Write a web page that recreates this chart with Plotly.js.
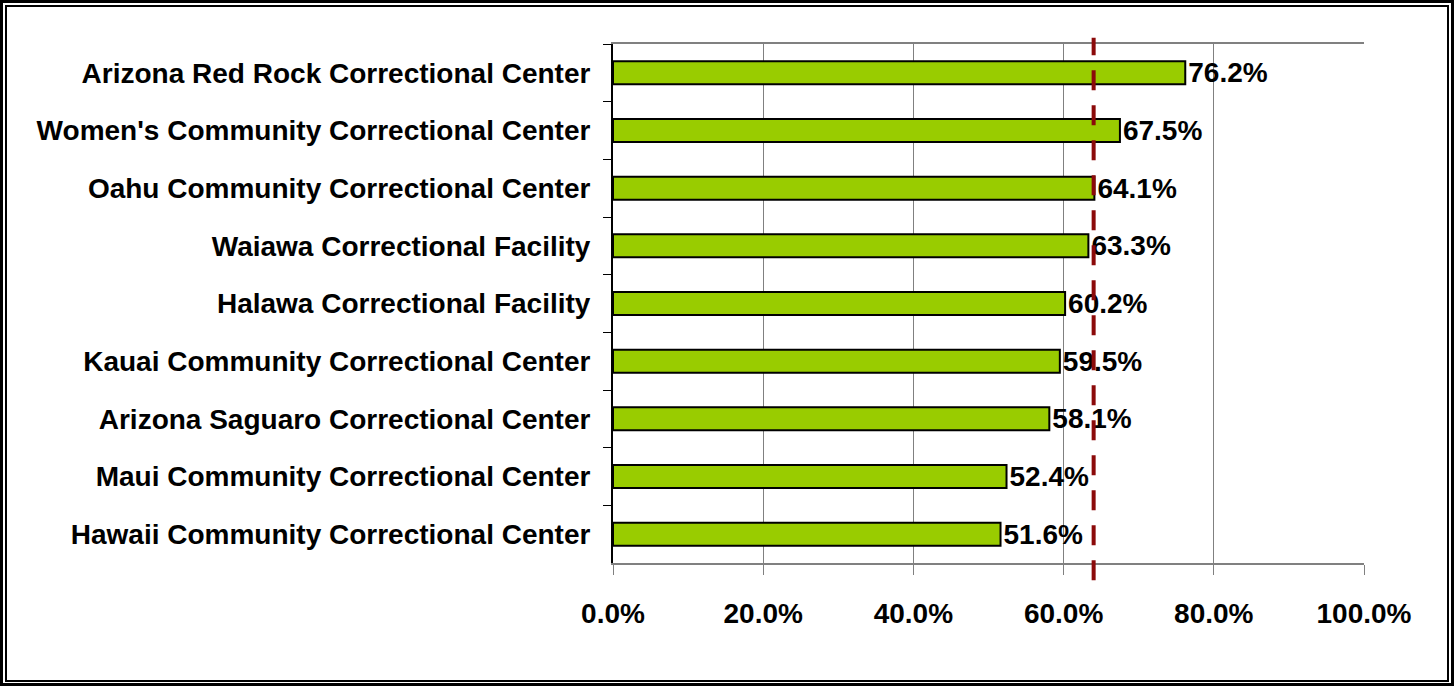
<!DOCTYPE html>
<html>
<head>
<meta charset="utf-8">
<script src="https://cdn.plot.ly/plotly-3.0.1.min.js"></script>
<style>
  body { margin: 0; background: #fff; }
  #wrap { position: relative; width: 1454px; height: 686px; }
  #plot { position: absolute; left: 0; top: 0; width: 1454px; height: 686px; }
  .frame { position: absolute; box-sizing: border-box; border: solid #000; pointer-events: none; }
  #outer { left: 0; top: 0; width: 1454px; height: 686px; border-width: 3px; }
  #inner { left: 5px; top: 5px; width: 1444px; height: 677px; border-width: 2px; }
</style>
</head>
<body>
<div id="wrap">
  <div id="plot"></div>
  <div id="outer" class="frame"></div>
  <div id="inner" class="frame"></div>
</div>
<script>
// facilities, top to bottom as in the chart
const facilities = [
    'Arizona Red Rock Correctional Center',
    "Women's Community Correctional Center",
    'Oahu Community Correctional Center',
    'Waiawa Correctional Facility',
    'Halawa Correctional Facility',
    'Kauai Community Correctional Center',
    'Arizona Saguaro Correctional Center',
    'Maui Community Correctional Center',
    'Hawaii Community Correctional Center'
];
const rates = [76.2, 67.5, 64.1, 63.3, 60.2, 59.5, 58.1, 52.4, 51.6];
const average = 64.0; // dashed reference line
const xTicks = [0, 20, 40, 60, 80, 100];
const xTickLabels = ['0.0%', '20.0%', '40.0%', '60.0%', '80.0%', '100.0%'];

const bold = { family: 'Liberation Sans, Arial, sans-serif', size: 28, color: '#000', weight: 'bold' };

let bars = {
    type: 'bar',
    orientation: 'h',
    x: rates,
    y: facilities,
    text: rates.map(v => v.toFixed(1) + '%'),
    textposition: 'outside',
    constraintext: 'none',
    textfont: bold,
    cliponaxis: false,
    marker: {
        color: '#99cc00',
        line: { color: '#000', width: 2 }
    },
    hoverinfo: 'none'
};

const layout = {
    width: 1454,
    height: 686,
    margin: { l: 613, r: 90, t: 44, b: 123 },
    paper_bgcolor: '#fff',
    plot_bgcolor: '#fff',
    showlegend: false,
    bargap: 0.6,
    font: bold,
    xaxis: {
        range: [0, 100],
        tickvals: xTicks,
        ticktext: xTickLabels,
        showgrid: true,
        gridcolor: '#808080',
        gridwidth: 1,
        zeroline: false,
        showline: true,
        mirror: true,
        linecolor: '#808080',
        linewidth: 2,
        ticks: 'outside',
        ticklen: 10,
        tickcolor: '#808080',
        tickfont: bold,
        ticklabelstandoff: 14
    },
    yaxis: {
        autorange: 'reversed',
        showgrid: false,
        zeroline: false,
        showline: true,
        linecolor: '#000',
        linewidth: 2,
        ticks: 'outside',
        tickson: 'boundaries',
        ticklen: 8,
        tickcolor: '#000',
        tickfont: bold,
        ticklabelstandoff: 15
    },
    shapes: [{
        type: 'line',
        xref: 'x', yref: 'paper',
        x0: average, x1: average,
        y0: -0.033, y1: 1.012,
        line: { color: '#8b0a0a', width: 4, dash: '20px,15px' }
    }]
};

Plotly.newPlot('plot', [bars], layout, { displayModeBar: false, staticPlot: true });
</script>
</body>
</html>
